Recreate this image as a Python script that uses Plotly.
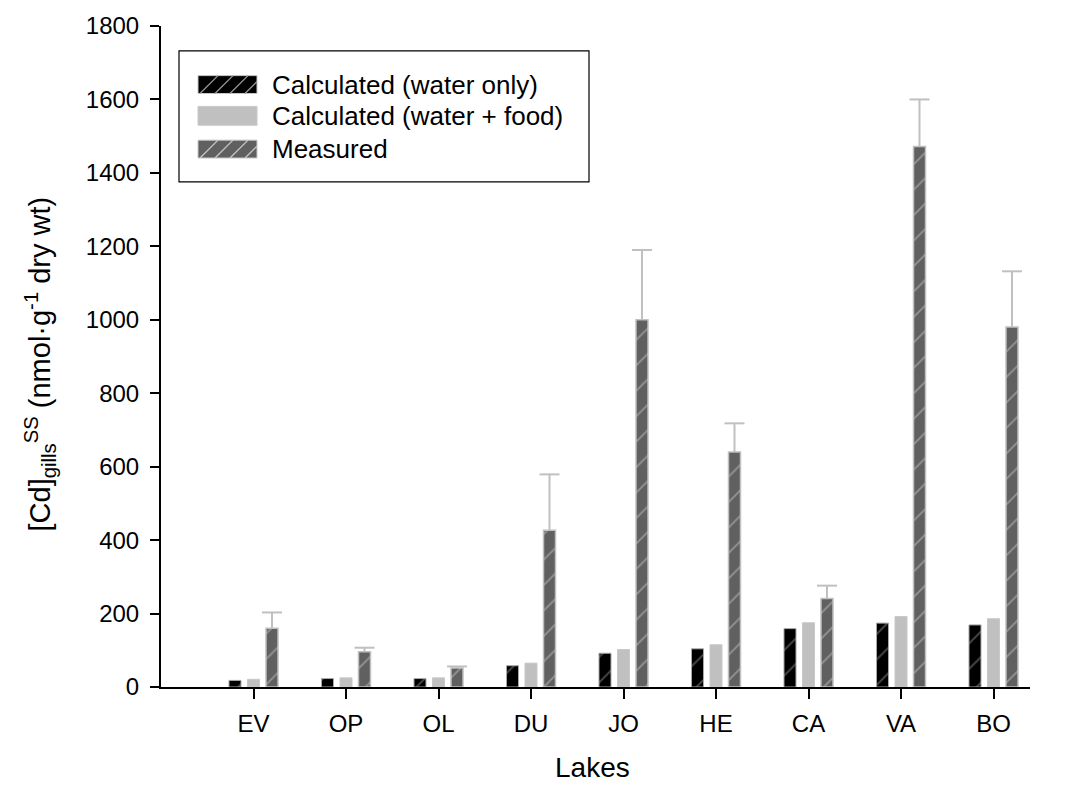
import plotly.graph_objects as go

# ---------------- data ----------------
categories = ["EV", "OP", "OL", "DU", "JO", "HE", "CA", "VA", "BO"]
water_only = [18, 23, 23, 58, 92, 104, 159, 174, 169]
water_food = [21, 25, 25, 65, 102, 115, 175, 192, 186]
measured = [160, 96, 52, 427, 1000, 640, 241, 1472, 980]
measured_err = [43, 11, 4, 152, 190, 78, 35, 128, 152]
series_names = ["Calculated (water only)", "Calculated (water + food)", "Measured"]
y_ticks = list(range(0, 1801, 200))

# ---------------- layout constants ----------------
W, H = 1074, 792
ML, MR, MT, MB = 161, 44, 21, 105
PW, PH = W - ML - MR, H - MT - MB
FONT = "Arial, Liberation Sans, sans-serif"
BARGAP = 0.4
BARGROUPGAP = 0.35
positions = list(range(1, len(categories) + 1))
x_range = [0, PW / 92.5]
slot = (1 - BARGAP) / 3
cap_half = 10 / 92.5

def px(x):
    return (x - ML) / PW

def py(y):
    return (H - MB - y) / PH

BLACK, LGRAY, DGRAY = "#000000", "#c0c0c0", "#606060"

fig = go.Figure()
fig.add_trace(go.Bar(
    x=positions, y=water_only, name=series_names[0], showlegend=False,
    marker=dict(color=BLACK, line=dict(color="#a8a8a8", width=1),
                pattern=dict(shape="/", fgcolor="#9a9a9a", bgcolor=BLACK, size=18, solidity=0.1)),
))
fig.add_trace(go.Bar(
    x=positions, y=water_food, name=series_names[1], showlegend=False,
    marker=dict(color=LGRAY, line=dict(color="#c8c8c8", width=1)),
))
fig.add_trace(go.Bar(
    x=positions, y=measured, name=series_names[2], showlegend=False,
    marker=dict(color=DGRAY, line=dict(color="#c0c0c0", width=1.5),
                pattern=dict(shape="/", fgcolor="#c8c8c8", bgcolor=DGRAY, size=18, solidity=0.1)),
))

# upper error bars for measured series
ex, ey = [], []
for p, v, e in zip(positions, measured, measured_err):
    xm = p + slot
    ex += [xm, xm, None, xm - cap_half, xm + cap_half, None]
    ey += [v, v + e, None, v + e, v + e, None]
fig.add_trace(go.Scatter(x=ex, y=ey, mode="lines", showlegend=False, hoverinfo="skip",
                         line=dict(color="#c0c0c0", width=2)))

shapes = []
# x axis extends a little left of the y axis
shapes.append(dict(type="line", xref="paper", yref="paper", x0=px(151), x1=0, y0=0, y1=0,
                   line=dict(color="black", width=2)))
# legend box
shapes.append(dict(type="rect", xref="paper", yref="paper", x0=px(179), x1=px(589), y0=py(46), y1=py(178),
                   line=dict(color="black", width=1.2), fillcolor="white"))
rows = [(71, 89), (102, 121), (136, 154)]
fills = [BLACK, LGRAY, DGRAY]
hatch = ["#9a9a9a", None, "#c8c8c8"]
sx0, sx1 = 198, 257
annotations = []
for (ya, yb), fc, hc, name in zip(rows, fills, hatch, series_names):
    shapes.append(dict(type="rect", xref="paper", yref="paper", x0=px(sx0), x1=px(sx1), y0=py(yb), y1=py(ya),
                       line=dict(color="#c8c8c8", width=1), fillcolor=fc))
    if hc:
        h = yb - ya
        for k in range(4):
            s = sx0 + 2 + 15 * k
            e = min(sx1, s + h)
            shapes.append(dict(type="line", xref="paper", yref="paper", x0=px(s), y0=py(yb),
                               x1=px(e), y1=py(yb - (e - s)), line=dict(color=hc, width=1.3)))
    annotations.append(dict(text=name, xref="paper", yref="paper", x=px(270), y=py((ya + yb) / 2),
                            xanchor="left", yanchor="middle", showarrow=False,
                            font=dict(family=FONT, size=26, color="black")))

annotations.append(dict(text="[Cd]<sub>gills</sub><sup>SS</sup> (nmol·g<sup>-1</sup> dry wt)",
                        xref="paper", yref="paper", x=px(40), y=py(362), textangle=-90,
                        xanchor="center", yanchor="middle", showarrow=False,
                        font=dict(family=FONT, size=29, color="black")))
annotations.append(dict(text="Lakes", xref="paper", yref="paper", x=px(592), y=py(768),
                        xanchor="center", yanchor="middle", showarrow=False,
                        font=dict(family=FONT, size=28, color="black")))

fig.update_layout(
    width=W, height=H, margin=dict(l=ML, r=MR, t=MT, b=MB, pad=0),
    paper_bgcolor="white", plot_bgcolor="white",
    barmode="group", bargap=BARGAP, bargroupgap=BARGROUPGAP,
    font=dict(family=FONT, size=24, color="black"),
    xaxis=dict(range=x_range, tickvals=positions, ticktext=categories, showgrid=False, zeroline=False,
               showline=True, linecolor="black", linewidth=2, ticks="outside", ticklen=10, tickwidth=2,
               tickcolor="black", tickfont=dict(size=24), ticklabelstandoff=4),
    yaxis=dict(range=[0, 1800], tickvals=y_ticks, showgrid=False, zeroline=False,
               showline=True, linecolor="black", linewidth=2, ticks="outside", ticklen=9, tickwidth=2,
               tickcolor="black", tickfont=dict(size=24), ticklabelstandoff=6),
    shapes=shapes, annotations=annotations, showlegend=False,
)

fig.write_html("out.html")
